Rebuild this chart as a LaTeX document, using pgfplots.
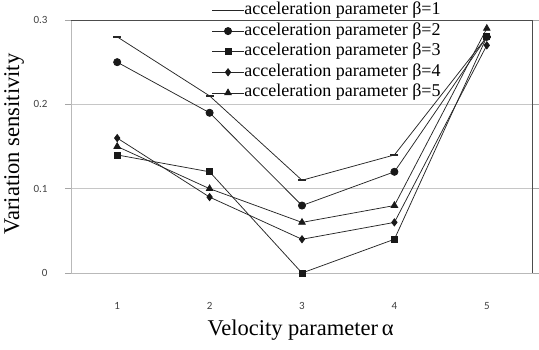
\documentclass[border=0pt]{standalone}
\usepackage{pgfplots}
\pgfplotsset{compat=1.18}
\usepackage{fontspec}
\setmainfont{Liberation Serif}
\newfontfamily\tickfont{Carlito}

\begin{document}
\begin{tikzpicture}[x=1pt,y=1pt]
\useasboundingbox (-71,-76) rectangle (468,273);
\begin{axis}[
  at={(0,0)}, anchor=south west,
  scale only axis, width=462pt, height=253pt,
  xmin=0.5, xmax=5.5, ymin=0, ymax=0.3,
  xtick={1,2,3,4,5}, ytick={0,0.1,0.2,0.3},
  yticklabels={0,0.1,0.2,0.3},
  /pgf/number format/assume math mode=true,
  tick label style={font=\tickfont\fontsize{11}{12}\selectfont, text=black!75},
  xticklabel style={anchor=center, yshift=-27pt},
  yticklabel style={anchor=east, xshift=-14pt},
  major x tick style={draw=none},
  major y tick style={gray!70, line width=0.8pt},
  tick align=outside, major tick length=6pt,
  ymajorgrids, grid style={gray!45, line width=0.8pt},
  axis line style={draw=none},
  xlabel={Velocity parameter\,α},
  ylabel={Variation sensitivity},
  xlabel style={font=\fontsize{22.5}{24}\selectfont, at={(axis description cs:0.497,0)}, anchor=center, yshift=-57pt},
  ylabel style={font=\fontsize{22.5}{24}\selectfont, at={(axis description cs:0,0.51)}, anchor=center, rotate=0, yshift=57pt},
  legend style={at={(rel axis cs:0.304,1.07)}, anchor=north west, draw=none, fill=none,
    font=\fontsize{18}{19}\selectfont, row sep=4.6pt, inner sep=0pt,
    nodes={inner sep=0pt, text height=12pt, text depth=4pt},
    /tikz/every even column/.append style={column sep=1pt}},
  legend cell align=left,
  legend image code/.code={
    \draw[#1, mark repeat=2, mark phase=2] plot coordinates {(-16pt,0pt) (0pt,0pt) (16pt,0pt)};},
  every axis plot/.append style={black!85, line width=0.75pt, mark options={solid, fill=black!90, draw=black!90}},
  clip=false,
]
% frame: light left and bottom, darker top and right
\draw[gray!55, line width=0.8pt] (rel axis cs:0,0) -- (rel axis cs:0,1);
\draw[gray!55, line width=0.8pt] (rel axis cs:0,0) -- (rel axis cs:1,0);
\draw[black!70, line width=1pt] (rel axis cs:0,1) -- (rel axis cs:1,1) -- (rel axis cs:1,0);

\addplot[mark=-, mark size=4pt, mark options={line width=1.6pt}] coordinates {(1,0.28) (2,0.21) (3,0.11) (4,0.14) (5,0.28)};
\addlegendentry{acceleration parameter β=1}
\addplot[mark=*, mark size=3.6pt] coordinates {(1,0.25) (2,0.19) (3,0.08) (4,0.12) (5,0.28)};
\addlegendentry{acceleration parameter β=2}
\addplot[mark=square*, mark size=3pt] coordinates {(1,0.14) (2,0.12) (3,0.00) (4,0.04) (5,0.28)};
\addlegendentry{acceleration parameter β=3}
\addplot[mark=diamond*, mark size=3.6pt] coordinates {(1,0.16) (2,0.09) (3,0.04) (4,0.06) (5,0.27)};
\addlegendentry{acceleration parameter β=4}
\addplot[mark=triangle*, mark size=3.8pt] coordinates {(1,0.15) (2,0.10) (3,0.06) (4,0.08) (5,0.29)};
\addlegendentry{acceleration parameter β=5}
\end{axis}
\end{tikzpicture}
\end{document}
